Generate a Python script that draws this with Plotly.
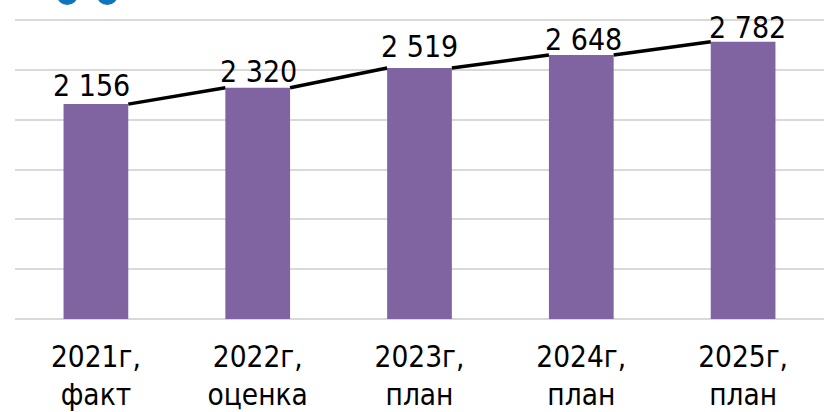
import plotly.graph_objects as go

categories = ["2021г,<br>факт", "2022г,<br>оценка", "2023г,<br>план", "2024г,<br>план", "2025г,<br>план"]
values = [2156, 2320, 2519, 2648, 2782]
value_labels = ["2 156", "2 320", "2 519", "2 648", "2 782"]
y_ticks = [0, 500, 1000, 1500, 2000, 2500, 3000]
label_xshift = [-4, 1, 0, 2, 4]
label_yshift = [-1, -3, 2, -4, -5]

FONT = "DejaVu Sans Condensed, DejaVu Sans"
FS = 30
TICK_FS = 29.5
W, H = 833, 412
L, R, T, B = 15, 824, 18, 319
BAR_W = 0.4
positions = list(range(len(categories)))


def px(v):
    return (v - L) / (R - L)


def py(v):
    return (B - v) / (B - T)


# Excel-style series lines: right edge of one bar to the left edge of the next
line_x, line_y = [], []
for i in positions[:-1]:
    line_x += [i + BAR_W / 2, i + 1 - BAR_W / 2, None]
    line_y += [values[i], values[i + 1], None]

fig = go.Figure()
fig.add_trace(go.Bar(
    x=positions, y=values, width=BAR_W,
    marker=dict(color="#8064A2", line=dict(width=0)), showlegend=False,
))
fig.add_trace(go.Scatter(
    x=line_x, y=line_y, mode="lines",
    line=dict(color="#000000", width=3.5), showlegend=False, hoverinfo="skip",
))

annotations = [
    dict(x=p, y=v, xref="x", yref="y", text=t, showarrow=False, yanchor="bottom",
         xshift=dx, yshift=dy, font=dict(family=FONT, size=FS, color="#000000"))
    for p, v, t, dx, dy in zip(positions, values, value_labels, label_xshift, label_yshift)
]

circle = dict(type="circle", xref="paper", yref="paper",
              line=dict(color="#0F75BC", width=5), fillcolor="#FFFFFF")

fig.update_layout(
    width=W, height=H, autosize=False,
    margin=dict(l=L, r=W - R, t=T, b=H - B, pad=0),
    paper_bgcolor="#FFFFFF", plot_bgcolor="#FFFFFF",
    xaxis=dict(range=[-0.5, 4.5], tickvals=positions, ticktext=categories,
               showgrid=False, zeroline=False, showline=False, automargin=False,
               ticks="", tickfont=dict(family=FONT, size=TICK_FS, color="#000000"),
               tickangle=0, ticklabelstandoff=17),
    yaxis=dict(range=[0, 3020], tickvals=y_ticks, showticklabels=False, ticks="",
               showgrid=True, gridcolor="#D9D9D9", gridwidth=2,
               zeroline=True, zerolinecolor="#D9D9D9", zerolinewidth=2, showline=False),
    annotations=annotations,
    shapes=[
        dict(circle, x0=px(59.5), x1=px(75), y0=py(-12), y1=py(2.5)),
        dict(circle, x0=px(99.5), x1=px(115), y0=py(-12), y1=py(2.5)),
    ],
)
fig.write_html("out.html", post_script="document.body.style.margin='0';",
               config=dict(displayModeBar=False))
